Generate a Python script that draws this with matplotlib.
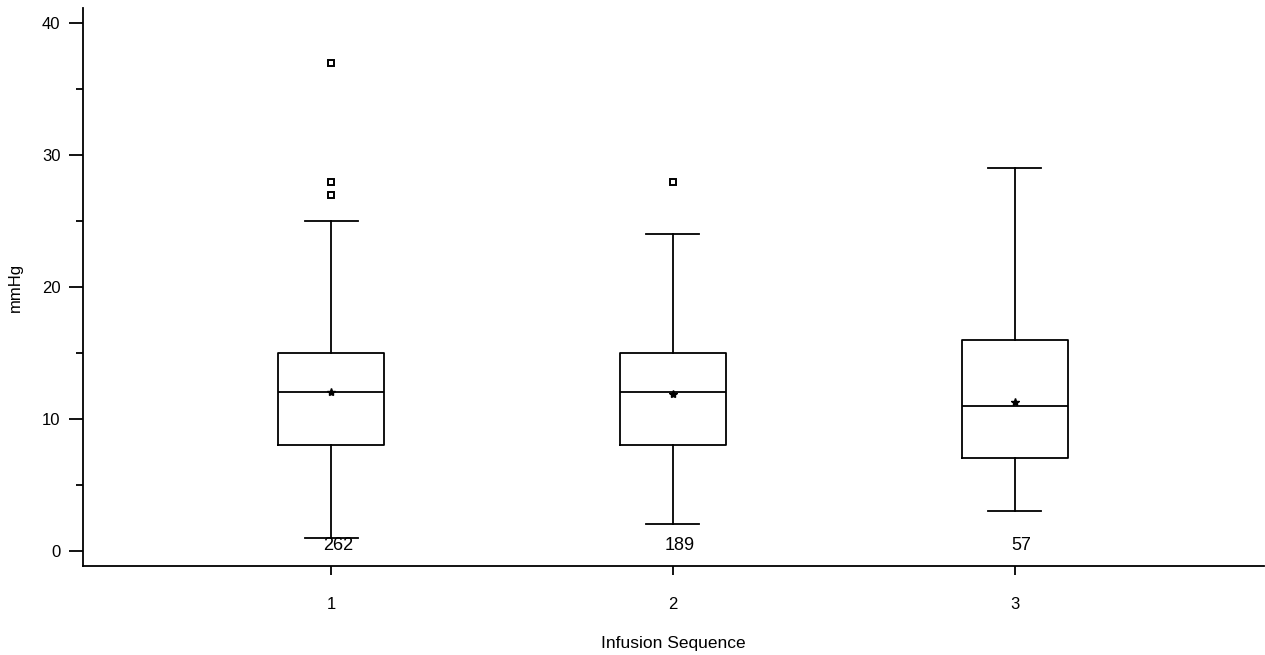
import matplotlib
matplotlib.use("Agg")
from matplotlib import pyplot as plt
from matplotlib.ticker import MultipleLocator
import matplotlib.transforms as mtransforms

plt.rcParams["font.family"] = ["Liberation Sans", "DejaVu Sans"]

# values
groups = ["1", "2", "3"]
q1 = [8, 8, 7]
medians = [12, 12, 11]
q3 = [15, 15, 16]
whisker_low = [1, 2, 3]
whisker_high = [25, 24, 29]
means = [12.0, 11.9, 11.3]
outliers = [[37, 28, 27], [28], []]
counts = [262, 189, 57]

stats = []
for i, g in enumerate(groups):
    stats.append({
        "label": g,
        "q1": q1[i], "med": medians[i], "q3": q3[i],
        "whislo": whisker_low[i], "whishi": whisker_high[i],
        "mean": means[i], "fliers": outliers[i],
    })

fig = plt.figure(figsize=(12.65, 6.55), dpi=100)
ax = fig.add_axes([0.0654, 0.1359, 0.9338, 0.8514])

lw = 1.3
ax.bxp(
    stats,
    positions=[1, 2, 3],
    widths=0.31,
    showmeans=True,
    showfliers=True,
    boxprops=dict(color="black", linewidth=lw),
    medianprops=dict(color="black", linewidth=lw),
    whiskerprops=dict(color="black", linewidth=lw),
    capprops=dict(color="black", linewidth=lw),
    capwidths=0.155,
    meanprops=dict(marker="*", markerfacecolor="black", markeredgecolor="black", markersize=6),
    flierprops=dict(marker="s", markerfacecolor="white", markeredgecolor="black",
                    markersize=4.5, markeredgewidth=1.4),
)

offset = mtransforms.offset_copy(ax.transData, fig=fig, x=7, y=0, units="dots")
for i, n in enumerate(counts):
    ax.text(i + 1, 0.43, str(n), transform=offset, ha="center", va="center", fontsize=13)

ax.set_xlim(0.273, 3.73)
ax.set_ylim(-1.16, 41.14)
ax.yaxis.set_major_locator(MultipleLocator(10))
ax.yaxis.set_minor_locator(MultipleLocator(5))
ax.set_xticks([1, 2, 3])
ax.set_xticklabels(groups)

for side in ["top", "right"]:
    ax.spines[side].set_visible(False)
for side in ["left", "bottom"]:
    ax.spines[side].set_linewidth(1.3)

ax.tick_params(axis="y", which="major", length=10, width=1.3, pad=6, labelsize=12)
ax.tick_params(axis="y", which="minor", length=5, width=1.3)
ax.tick_params(axis="x", which="major", length=6.5, width=1.3, pad=16, labelsize=12)

ax.set_xlabel("Infusion Sequence", fontsize=12.5, labelpad=17)
ax.set_ylabel("mmHg", fontsize=12, labelpad=14)

fig.savefig("out.png", dpi=100)
